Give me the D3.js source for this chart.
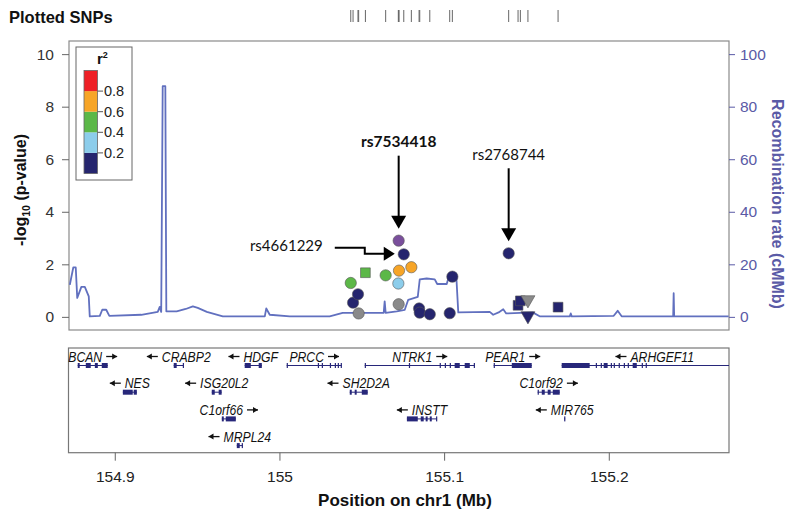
<!DOCTYPE html>
<html><head><meta charset="utf-8">
<script src="https://cdn.jsdelivr.net/npm/d3@7"></script>
<style>body{margin:0;background:#fff}svg{display:block}</style>
</head><body><svg id="c" width="800" height="523"></svg>
<script>
// ---------------- DATA ----------------
const snpPos   = [155.0433,155.0447,155.0477,155.0481,155.0522,155.0645,155.0722,155.0724,155.0726,155.0724,155.0755,155.0801,155.0848,155.0852,155.0913,155.1034,155.1050,155.1392,155.1449,155.1463,155.1509,155.1509,155.1692];
const snpLogP  = [1.29,0.54,0.86,0.13,1.68,1.58,1.27,2.90,1.76,0.48,2.38,1.89,0.32,0.16,0.10,0.14,1.53,2.42,0.44,0.61,0.65,0.04,0.37];
const snpR2    = [0.5,0.1,0.1,null,0.5,0.5,0.3,"lead",0.7,null,0.1,0.7,0.1,0.1,0.1,0.1,0.1,0.1,0.1,0.1,null,0.1,0.1];
const snpShape = ["circle","circle","circle","circle","square","circle","circle","circle","circle","circle","circle","circle","circle","circle","circle","circle","circle","circle","square","square","triangle","triangle","square"];

const annotSnp   = [7,10,17];
const annotLabel = ["rs7534418","rs4661229","rs2768744"];
const annotBold  = [true,false,false];
const annotKind  = ["down","elbow","down"];

const recombPos  = [154.8727,154.8748,154.8763,154.8772,154.8797,154.8818,154.8842,154.8848,154.8909,154.8924,154.8948,154.8967,154.9161,154.9261,154.9273,154.9282,154.9291,154.9307,154.9313,154.9376,154.9431,154.9474,154.9504,154.9559,154.9656,154.9911,154.9920,154.9941,155.0063,155.0305,155.0384,155.0633,155.0639,155.0645,155.0712,155.0761,155.0782,155.0840,155.0852,155.0894,155.0943,155.0958,155.1016,155.1034,155.1073,155.1086,155.1277,155.1298,155.1331,155.1359,155.1377,155.1538,155.1580,155.1763,155.1769,155.1775,155.2030,155.2054,155.2078,155.2391,155.2394,155.2397,155.2728];
const recombRate = [12.2,18.8,18.8,7.2,11.4,11.4,7.8,0.2,0.4,2.7,2.7,0.4,0.8,1.9,3.8,1.9,87.8,87.8,2.1,2.1,3.0,4.0,3.4,1.9,0.2,0.2,3.2,0.8,0.2,0.2,1.5,1.5,5.9,1.5,2.1,2.7,6.5,7.6,14.3,14.6,14.3,12.5,12.5,16.7,16.5,1.7,1.9,0.8,1.7,2.9,1.3,1.7,0.2,0.2,1.3,0.2,0.4,2.3,0.2,0.2,9.0,0.2,0.2];

const geneNames  = ["BCAN","CRABP2","HDGF","PRCC","NTRK1","PEAR1","ARHGEF11","NES","ISG20L2","SH2D2A","C1orf92","C1orf66","INSTT","MIR765","MRPL24"];
const geneStart  = [154.8775,154.9358,154.9789,155.0044,155.0518,155.1301,155.1714,154.9049,154.9589,155.0427,155.1568,154.9650,155.0774,155.1729,154.9741];
const geneEnd    = [154.8957,154.9419,154.9893,155.0378,155.1186,155.1532,155.3100,154.9134,154.9649,155.0536,155.1702,154.9735,155.0957,155.1735,154.9777];
const geneStrand = ["+","-","-","+","+","+","-","-","-","-","+","+","-","-","-"];
const geneRow    = [0,0,0,0,0,0,0,1,1,1,1,2,2,2,3];
const geneLabelAt= [null,null,null,null,null,null,155.2279,null,null,null,null,null,null,null,null];
const geneExons  = [
  [[154.8775,154.8787],[154.8824,154.8854],[154.8879,154.8897],[154.8921,154.8957]],
  [[154.9358,154.9376],[154.9413,154.9419]],
  [[154.9789,154.9826],[154.9874,154.9893]],
  [[155.0044,155.0050],[155.0233,155.0239],[155.0257,155.0263],[155.0306,155.0312],[155.0336,155.0342],[155.0354,155.0360],[155.0372,155.0378]],
  [[155.0518,155.0524],[155.0786,155.0792],[155.0973,155.0979],[155.1004,155.1010],[155.1034,155.1040],[155.1064,155.1095],[155.1125,155.1156],[155.1180,155.1186]],
  [[155.1301,155.1307],[155.1411,155.1532]],
  [[155.1714,155.1884],[155.1921,155.1927],[155.1951,155.1957],[155.1969,155.1993],[155.2012,155.2018],[155.2030,155.2036],[155.2060,155.2066],[155.2091,155.2097],[155.2115,155.2121],[155.2145,155.2170],[155.2200,155.2206],[155.2224,155.2230]],
  [[154.9049,154.9109],[154.9115,154.9134]],
  [[154.9589,154.9607],[154.9631,154.9649]],
  [[155.0427,155.0439],[155.0457,155.0469],[155.0500,155.0536]],
  [[155.1568,155.1574],[155.1593,155.1611],[155.1629,155.1647],[155.1660,155.1702]],
  [[154.9650,154.9662],[154.9674,154.9735]],
  [[155.0774,155.0840],[155.0858,155.0876],[155.0888,155.0900],[155.0913,155.0925],[155.0951,155.0957]],
  [[155.1729,155.1735]],
  [[154.9741,154.9759],[154.9771,154.9777]]
];

const leftTicks  = [0,2,4,6,8,10];
const rightTicks = [0,20,40,60,80,100];
const xTicks     = [154.9,155,155.1,155.2];
const r2Breaks   = [0,0.2,0.4,0.6,0.8,1.0];
const r2Colors   = ["#25256e","#8ccdeb","#5cb848","#f7a527","#ee2026"];
const r2TickLbl  = ["0.2","0.4","0.6","0.8"];
const leadColor  = "#7a4f9c", naColor = "#8a8a8a";

// ---------------- DRAW ----------------
const svg = d3.select("#c");
const FONT = "'Liberation Sans', Arial, sans-serif";
const x  = d3.scaleLinear().domain([154.8722,155.2730]).range([69,729]);
const y  = d3.scaleLinear().domain([-0.5,10.5]).range([330,41]);
const yR = d3.scaleLinear().domain([-5,105]).range([330,41]);
const geneRowY = d3.scaleLinear().domain([0,1]).range([365.5,392.2]);
const recombCol = "#6170bf", axisBlue = "#5a5aa6";

svg.append("defs").append("clipPath").attr("id","pc")
  .append("rect").attr("x",69).attr("y",41).attr("width",660).attr("height",289);
svg.select("defs").append("clipPath").attr("id","gc")
  .append("rect").attr("x",69).attr("y",348).attr("width",660).attr("height",104);

// Plotted SNPs row
svg.append("text").attr("x",9).attr("y",23).attr("font-family",FONT).attr("font-weight","bold")
  .attr("font-size",16.5).attr("fill","#111").text("Plotted SNPs");
svg.append("g").selectAll("line").data(Array.from(new Set(snpPos))).join("line")
  .attr("x1",d=>x(d)).attr("x2",d=>x(d)).attr("y1",10).attr("y2",22)
  .attr("stroke","#666").attr("stroke-width",1);

// main panel border
svg.append("rect").attr("x",69).attr("y",41).attr("width",660).attr("height",289)
  .attr("fill","none").attr("stroke","#8a8a8a").attr("stroke-width",1.2);

// left axis
const la = svg.append("g").attr("transform","translate(69,0)")
  .call(d3.axisLeft(y).tickValues(leftTicks).tickSize(7).tickPadding(8));
la.select(".domain").remove();
la.selectAll("line").attr("stroke","#666");
la.selectAll("text").attr("font-family",FONT).attr("font-size",15.5).attr("fill","#333");

// right axis
const ra = svg.append("g").attr("transform","translate(729,0)")
  .call(d3.axisRight(yR).tickValues(rightTicks).tickSize(6).tickPadding(5));
ra.select(".domain").remove();
ra.selectAll("line").attr("stroke",axisBlue);
ra.selectAll("text").attr("font-family",FONT).attr("font-size",15.5).attr("fill",axisBlue);

// axis titles
const lt = svg.append("text").attr("transform","translate(26,190) rotate(-90)")
  .attr("text-anchor","middle").attr("font-family",FONT).attr("font-weight","bold")
  .attr("font-size",16).attr("fill","#111");
lt.append("tspan").text("-log");
lt.append("tspan").attr("font-size",10.5).attr("dy",4).text("10");
lt.append("tspan").attr("dy",-4).text(" (p-value)");
svg.append("text").attr("transform","translate(772,204) rotate(90)")
  .attr("text-anchor","middle").attr("font-family",FONT).attr("font-weight","bold")
  .attr("font-size",16).attr("fill",axisBlue).text("Recombination rate (cMMb)");

// recombination line
svg.append("path").attr("clip-path","url(#pc)")
  .datum(recombPos.map((p,i)=>[p,recombRate[i]]))
  .attr("d",d3.line().x(d=>x(d[0])).y(d=>yR(d[1])))
  .attr("fill","none").attr("stroke",recombCol).attr("stroke-width",1.8).attr("stroke-linejoin","round");

// points
function colorOf(r){
  if(r==="lead") return leadColor;
  if(r===null) return naColor;
  for(let i=0;i<5;i++) if(r<r2Breaks[i+1]) return r2Colors[i];
  return r2Colors[4];
}
const sym = {circle:d3.symbolCircle, square:d3.symbolSquare, triangle:d3.symbolTriangle};
const symSize = {circle:100, square:95, triangle:85};
svg.append("g").selectAll("path").data(snpPos.map((p,i)=>i)).join("path")
  .attr("d",i=>d3.symbol(sym[snpShape[i]],symSize[snpShape[i]])())
  .attr("transform",i=>`translate(${x(snpPos[i])},${y(snpLogP[i])})`+(snpShape[i]==="triangle"?" rotate(180)":""))
  .attr("fill",i=>colorOf(snpR2[i])).attr("stroke","#555").attr("stroke-width",0.6);

// annotations
const ag = svg.append("g");
annotSnp.forEach((si,k)=>{
  const px = x(snpPos[si]), py = y(snpLogP[si]);
  if(annotKind[k]==="down"){
    const tip = py-12;
    ag.append("line").attr("x1",px).attr("x2",px).attr("y1",tip-73).attr("y2",tip-11)
      .attr("stroke","#000").attr("stroke-width",2);
    ag.append("path").attr("d",`M${px-7.5},${tip-13}L${px+7.5},${tip-13}L${px},${tip}Z`).attr("fill","#000");
    ag.append("text").attr("x",px).attr("y",tip-87).attr("dy","0.35em").attr("text-anchor","middle")
      .attr("font-family","Lato, 'Open Sans', sans-serif").attr("font-size",annotBold[k]?15.5:15)
      .attr("font-weight",annotBold[k]?"bold":"normal").attr("fill","#111").text(annotLabel[k]);
  } else {
    const tx = px-9, ty = py-0.5;
    ag.append("path").attr("d",`M${tx-60},${ty-6}H${tx-30}V${ty}H${tx-9}`)
      .attr("fill","none").attr("stroke","#000").attr("stroke-width",2);
    ag.append("path").attr("d",`M${tx-11},${ty-7}L${tx-11},${ty+7}L${tx},${ty}Z`).attr("fill","#000");
    ag.append("text").attr("x",tx-72).attr("y",ty-8).attr("dy","0.35em").attr("text-anchor","end")
      .attr("font-family","Lato, 'Open Sans', sans-serif").attr("font-size",15)
      .attr("fill","#111").text(annotLabel[k]);
  }
});

// legend
const lg = svg.append("g");
lg.append("rect").attr("x",76).attr("y",47).attr("width",56).attr("height",133)
  .attr("fill","#fff").attr("stroke","#666").attr("stroke-width",1);
const lt2 = lg.append("text").attr("x",97).attr("y",64).attr("font-family",FONT)
  .attr("font-weight","bold").attr("font-size",15).attr("fill","#111");
lt2.append("tspan").text("r");
lt2.append("tspan").attr("font-size",9).attr("dy",-6).text("2");
const ly = d3.scaleLinear().domain([0,1]).range([173.5,70.5]);
lg.selectAll("rect.b").data(r2Colors).join("rect").attr("class","b")
  .attr("x",84).attr("width",13.5)
  .attr("y",(c,i)=>ly(r2Breaks[i+1])).attr("height",(c,i)=>ly(r2Breaks[i])-ly(r2Breaks[i+1]))
  .attr("fill",c=>c);
lg.append("rect").attr("x",84).attr("y",ly(1)).attr("width",13.5).attr("height",ly(0)-ly(1))
  .attr("fill","none").attr("stroke","#666").attr("stroke-width",0.8);
r2TickLbl.forEach((t,i)=>{
  const yy = ly(r2Breaks[i+1]);
  lg.append("line").attr("x1",97.5).attr("x2",103).attr("y1",yy).attr("y2",yy).attr("stroke","#555");
  lg.append("text").attr("x",104).attr("y",yy).attr("dy","0.35em").attr("font-family",FONT)
    .attr("font-size",14.5).attr("fill","#222").text(t);
});

// gene panel
svg.append("rect").attr("x",68.5).attr("y",348).attr("width",660.5).attr("height",104.7)
  .attr("fill","none").attr("stroke","#777").attr("stroke-width",1.2);
const gg = svg.append("g");
const geneCol = "#27277a";
const GSIZE = 14.2, GSX = 0.86;
geneNames.forEach((name,i)=>{
  const gy = geneRowY(geneRow[i]);
  const body = gg.append("g").attr("clip-path","url(#gc)");
  body.append("line").attr("x1",x(geneStart[i])).attr("x2",x(geneEnd[i])).attr("y1",gy).attr("y2",gy)
    .attr("stroke",geneCol).attr("stroke-width",1);
  geneExons[i].forEach(e=>{
    body.append("rect").attr("x",x(e[0])).attr("width",Math.max(1.2,x(e[1])-x(e[0])))
      .attr("y",gy-2.5).attr("height",5).attr("fill",geneCol);
  });
  const cx = geneLabelAt[i]!==null ? x(geneLabelAt[i]) : x((geneStart[i]+Math.min(geneEnd[i],x.domain()[1]))/2);
  const ty = gy-4;
  const tg = gg.append("g");
  const t = tg.append("text").attr("x",0).attr("y",0).attr("font-family",FONT).attr("font-style","italic")
    .attr("font-size",GSIZE).attr("fill","#111").text(name);
  const tw = t.node().getComputedTextLength()*GSX;
  const total = tw+4+11;
  const left = cx-total/2;
  let ax0, ax1, tx;
  if(geneStrand[i]==="+"){ tx=left; ax0=left+tw+4; ax1=ax0+11; }
  else { tx=left+15; ax0=left+11; ax1=left; }
  tg.attr("transform",`translate(${tx},${ty}) scale(${GSX},1)`);
  const ay = ty-5;
  gg.append("line").attr("x1",ax0).attr("x2",ax1).attr("y1",ay).attr("y2",ay).attr("stroke","#111").attr("stroke-width",1.3);
  const dir = ax1>ax0?1:-1;
  gg.append("path").attr("d",`M${ax1},${ay}L${ax1-dir*5},${ay-3}L${ax1-dir*5},${ay+3}Z`).attr("fill","#111");
});

// x axis
const xa = svg.append("g").attr("transform","translate(0,452.7)")
  .call(d3.axisBottom(x).tickValues(xTicks).tickFormat(d=>String(d)).tickSize(8).tickPadding(10));
xa.select(".domain").remove();
xa.selectAll("line").attr("stroke","#666");
xa.selectAll("text").attr("font-family",FONT).attr("font-size",15.5).attr("fill","#222");
svg.append("text").attr("x",405).attr("y",506).attr("text-anchor","middle").attr("font-family",FONT)
  .attr("font-weight","bold").attr("font-size",17).attr("fill","#111").text("Position on chr1 (Mb)");
</script></body></html>
